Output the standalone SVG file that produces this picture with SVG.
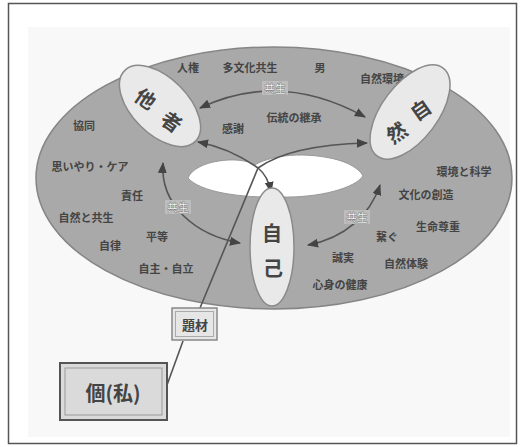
<svg xmlns="http://www.w3.org/2000/svg" width="520" height="447" viewBox="0 0 520 447">
<style>
.t{font-family:"Noto Sans CJK JP","Noto Sans",sans-serif;font-size:11px;fill:#444;text-anchor:middle;dominant-baseline:central;font-weight:bold}
.big{font-family:"Noto Sans CJK JP","Noto Sans",sans-serif;font-size:20px;fill:#444;text-anchor:middle;dominant-baseline:central;font-weight:bold}
.lab{font-family:"Noto Sans CJK JP","Noto Sans",sans-serif;font-size:11px;fill:#fff;stroke:#777;stroke-width:0.5;text-anchor:middle;dominant-baseline:central;font-weight:bold}
.node{fill:#e9e9e9;stroke:#8a8a8a;stroke-width:1.5}
.con{fill:none;stroke:#555;stroke-width:1.6}
.labbg{fill:#bdbdbd}
</style>
<defs>
<marker id="ah" viewBox="0 0 10 10" refX="9" refY="5" markerWidth="7" markerHeight="7" orient="auto-start-reverse">
<path d="M0,1 L10,5 L0,9 Z" fill="#444"/>
</marker>
</defs>
<rect x="8.5" y="3.5" width="508" height="440" fill="#fff" stroke="#555" stroke-width="1.5"/>
<rect x="28" y="27" width="482" height="410" fill="#f8f8f8"/>
<g id="ring">
<ellipse cx="274" cy="178" rx="238" ry="131" fill="#a9a9a9" stroke="#858585" stroke-width="1.5"/>
<path d="M188,178 C195,160 240,155 255,165 C262,160 290,150 330,158 C350,162 360,170 363,176 C355,188 320,198 280,197 C240,198 200,192 188,178 Z" fill="#fff" stroke="#999" stroke-width="1"/>
<text class="t" x="188" y="67">人権</text>
<text class="t" x="250" y="67">多文化共生</text>
<text class="t" x="320" y="67">男</text>
<text class="t" x="382" y="78">自然環境</text>
<text class="t" x="294" y="117">伝統の継承</text>
<text class="t" x="233" y="128">感謝</text>
<text class="t" x="84" y="125">協同</text>
<text class="t" x="90" y="166">思いやり・ケア</text>
<text class="t" x="132" y="195">責任</text>
<text class="t" x="86" y="217">自然と共生</text>
<text class="t" x="157" y="236">平等</text>
<text class="t" x="110" y="245">自律</text>
<text class="t" x="166" y="268">自主・自立</text>
<text class="t" x="464" y="171">環境と科学</text>
<text class="t" x="426" y="194">文化の創造</text>
<text class="t" x="438" y="226">生命尊重</text>
<text class="t" x="387" y="236">繋ぐ</text>
<text class="t" x="343" y="257">誠実</text>
<text class="t" x="406" y="263">自然体験</text>
<text class="t" x="340" y="284">心身の健康</text>
</g>
<g id="connectors">
<path class="con" d="M200,108 Q280,70 365,117" marker-start="url(#ah)" marker-end="url(#ah)"/>
<path class="con" d="M163,163 C160,205 195,235 240,243" marker-start="url(#ah)" marker-end="url(#ah)"/>
<path class="con" d="M308,245 C345,238 370,215 380,185" marker-start="url(#ah)" marker-end="url(#ah)"/>
<path class="con" d="M200,308 L258,168"/>
<path class="con" d="M258,168 Q230,148 198,142" marker-end="url(#ah)"/>
<path class="con" d="M258,168 Q290,145 367,143" marker-end="url(#ah)"/>
<path class="con" d="M258,168 Q268,176 271,192" marker-end="url(#ah)"/>
<path class="con" d="M183,341 L167,385"/>
<rect class="labbg" x="262" y="81" width="26" height="14"/>
<text class="lab" x="275" y="88">共生</text>
<rect class="labbg" x="165" y="200" width="26" height="14"/>
<text class="lab" x="178" y="207">共生</text>
<rect class="labbg" x="344" y="210" width="26" height="14"/>
<text class="lab" x="357" y="217">共生</text>
</g>
<g id="tasha">
<ellipse class="node" cx="160" cy="106" rx="50" ry="28" transform="rotate(45 160 106)"/>
<text class="big" x="146" y="98" transform="rotate(35 146 98)">他</text>
<text class="big" x="172" y="121" transform="rotate(35 172 121)">者</text>
</g>
<g id="shizen">
<ellipse class="node" cx="410" cy="112" rx="55" ry="28" transform="rotate(-53 410 112)"/>
<text class="big" x="420" y="109" transform="rotate(-35 420 109)">自</text>
<text class="big" x="396" y="132" transform="rotate(-35 396 132)">然</text>
</g>
<g id="jiko">
<ellipse class="node" cx="272" cy="247" rx="22" ry="59"/>
<text class="big" x="272" y="232">自</text>
<text class="big" x="273" y="267">己</text>
</g>
<g id="daizai">
<rect x="172" y="308" width="45" height="32" fill="#e6e6e6" stroke="#888" stroke-width="1.5"/>
<rect x="175.5" y="311.5" width="38" height="25" fill="none" stroke="#aaa" stroke-width="1"/>
<text class="t" x="195" y="324" style="font-size:13px">題材</text>
</g>
<g id="watashi">
<rect x="60" y="363" width="107" height="57" fill="#dadada" stroke="#555" stroke-width="2"/>
<rect x="65" y="368" width="97" height="47" fill="none" stroke="#999" stroke-width="1"/>
<text class="big" x="113" y="392">個(私)</text>
</g>
</svg>
